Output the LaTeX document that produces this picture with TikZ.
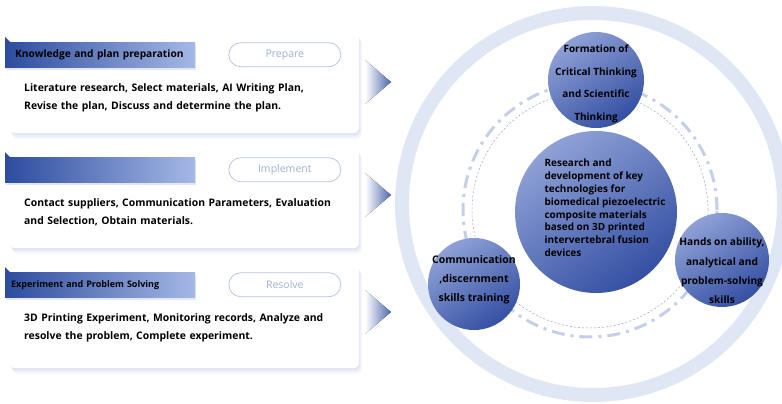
\documentclass[tikz,border=0pt]{standalone}
\usepackage{fontspec}
\setmainfont{Open Sans}
\usetikzlibrary{positioning, shadows, shapes.geometric}

\definecolor{bardark}{HTML}{2D4C9E}
\definecolor{barlight}{HTML}{A5B8E6}
\definecolor{pillline}{HTML}{B8C5E4}
\definecolor{pilltext}{HTML}{A3B0D4}
\definecolor{ballhi}{HTML}{8FA1D6}
\definecolor{balllo}{HTML}{3550A3}
\definecolor{ringblue}{HTML}{E0E7F4}
\definecolor{orbitblue}{HTML}{C4CFE9}
\definecolor{orbitline}{HTML}{95A3CB}
\definecolor{shadowblue}{HTML}{B9C5E2}

\begin{document}
\begin{tikzpicture}[x=1pt, y=-1pt,
  card/.style={rectangle, fill=white, rounded corners=6pt, minimum width=350pt, minimum height=100pt, anchor=north west,
    drop shadow={shadow xshift=1pt, shadow yshift=-2pt, fill=shadowblue, opacity=.25},
    drop shadow={shadow xshift=2pt, shadow yshift=-4pt, fill=shadowblue, opacity=.18},
    drop shadow={shadow xshift=3pt, shadow yshift=-6pt, fill=shadowblue, opacity=.1}},
  bar/.style={rectangle, left color=bardark, right color=barlight, minimum width=190pt, minimum height=25pt, text width=170pt, inner xsep=10pt, inner ysep=0pt, align=left,
    drop shadow={shadow xshift=1pt, shadow yshift=-3pt, fill=shadowblue, opacity=.4},
    font=\bfseries\fontsize{10.2}{12}\selectfont},
  tag/.style={rectangle, rounded corners=12pt, draw=pillline, line width=.8pt, minimum width=112pt, minimum height=24pt, text=pilltext, font=\fontsize{10.5}{12}\selectfont},
  body/.style={text width=336pt, align=left, inner sep=0pt, font=\bfseries\fontsize{10.4}{18}\selectfont},
  pointer/.style={left color=white, right color=bardark!85},
  ball/.style={circle, shading=axis, top color=ballhi, bottom color=balllo, shading angle=35, inner sep=0pt},
  balltext/.style={align=center, inner sep=0pt, font=\bfseries\fontsize{10}{22.5}\selectfont},
]
\useasboundingbox (0,0) rectangle (782,404);

% three stage cards
\node[card] (prep) at (9,33) {};
\node[card] (impl) at (9,148) {};
\node[card, minimum height=103pt] (res) at (9,265) {};

\node[bar, below right=9pt and -4pt of prep.north west] (prepbar) {Knowledge and plan preparation};
\node[bar, below right=9pt and -4pt of impl.north west] (implbar) {};
\node[bar, below right=7pt and -4pt of res.north west, font=\bfseries\fontsize{9}{10}\selectfont, inner xsep=6pt, text width=178pt] (resbar) {Experiment and Problem Solving};

\foreach \b in {prepbar, implbar, resbar}
  \fill[bardark] (\b.north west) -- ++(0,-5) -- ++(5,5) -- cycle;

\node[tag, right=33pt of prepbar] (preptag) {Prepare};
\node[tag, right=33pt of implbar] (impltag) {Implement};
\node[tag, right=33pt of resbar] (restag) {Resolve};

\node[body, below right=16pt and 19pt of prepbar.south west] (preptext) {Literature research, Select materials, AI Writing Plan,\\Revise the plan, Discuss and determine the plan.};
\node[body, below right=16pt and 19pt of implbar.south west] (impltext) {Contact suppliers, Communication Parameters, Evaluation\\and Selection, Obtain materials.};
\node[body, below right=16pt and 19pt of resbar.south west] (restext) {3D Printing Experiment, Monitoring records, Analyze and\\resolve the problem, Complete experiment.};

% arrows pointing to the circle
\fill[pointer] (365,60) -- (391,82) -- (365,104) -- cycle;
\fill[pointer] (365,173) -- (391,195) -- (365,217) -- cycle;
\fill[pointer] (365,290) -- (391,312) -- (365,334) -- cycle;

% ring and orbits
\draw[ringblue, line width=14pt] (593,204) circle[radius=191pt];
\draw[orbitblue, line width=3pt, dash pattern=on 13pt off 6pt on 3pt off 6pt] (590,210) circle[radius=127pt];
\draw[orbitline, line width=.5pt, dash pattern=on 2pt off 2pt] (590,210) circle[radius=118pt];

\node[ball, minimum size=162pt] (core) at (596,212) {};
\node[balltext, align=left, font=\bfseries\fontsize{10}{12.8}\selectfont] (coretext) at ([xshift=9pt, yshift=4pt]core.center)
  {Research and\\development of key\\technologies for\\biomedical piezoelectric\\composite materials\\based on 3D printed\\intervertebral fusion\\devices};

\node[ball, minimum size=96pt] (think) at (596,80) {};
\node[balltext] (thinktext) at ([yshift=-4pt]think.center) {Formation of\\Critical Thinking\\and Scientific\\Thinking};

\node[ball, minimum size=92pt] (talk) at (474,284) {};
\node[balltext, font=\bfseries\fontsize{10.5}{19}\selectfont] (talktext) at ([yshift=4pt]talk.center) {Communication\\,discernment\\skills training};

\node[ball, minimum size=94pt] (hands) at (722,260) {};
\node[balltext, font=\bfseries\fontsize{10.2}{19.3}\selectfont] (handstext) at ([yshift=-11pt]hands.center) {Hands on ability,\\analytical and\\problem-solving\\skills};
\end{tikzpicture}
\end{document}
